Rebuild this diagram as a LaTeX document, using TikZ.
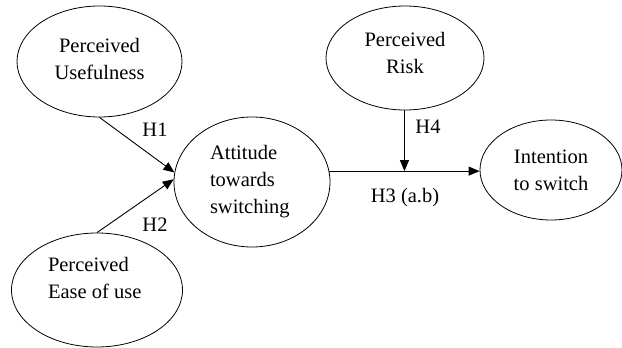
\documentclass[tikz,border=0pt]{standalone}
\usepackage{fontspec}
\setmainfont{Liberation Serif}
\usetikzlibrary{arrows.meta,positioning,calc,shapes.geometric}

\begin{document}
\begin{tikzpicture}[
  x=1pt, y=-1pt,
  var/.style={draw, ellipse, line width=0.8pt, inner sep=0pt, align=center,
    font=\fontsize{20.5}{27}\selectfont},
  arr/.style={-{Triangle[length=11pt,width=9pt]}, line width=0.9pt},
  lab/.style={font=\fontsize{20.5}{24}\selectfont, inner sep=1pt}
]
\useasboundingbox (0,0) rectangle (622,348);

% constructs
\node[var, minimum width=165pt, minimum height=111pt] (pu) at (99.5,61.5) {\raisebox{2.5pt}[\height][\depth]{\parbox{100pt}{\centering Perceived\\Usefulness}}};
\node[var, minimum width=171pt, minimum height=114pt, align=left] (peu) at (97,290) {\raisebox{12.5pt}[\height][\depth]{\parbox{98pt}{Perceived\\Ease of use}}};
\node[var, minimum width=156pt, minimum height=130pt, align=left] (att) at (252,182) {\parbox{84pt}{Attitude\\towards\\switching}};
\node[var, minimum width=158pt, minimum height=104pt] (risk) at (405,58) {\raisebox{5pt}[\height][\depth]{\parbox{100pt}{\centering Perceived\\Risk}}};
\node[var, minimum width=142pt, minimum height=100pt] (int) at (551,170) {Intention\\to switch};

% paths
\coordinate (mod) at ($(att.8)!0.5!(att.8 -| int.west)$);
\draw[arr] (pu.south) -- (att.173);
\draw[arr] (peu.north) -- (att.178);
\draw[arr] (att.8) -- (att.8 -| int.west);
\draw[arr] (risk.south -| mod) -- (mod);

% hypotheses
\node[lab] (h1) at (155,130) {H1};
\node[lab] (h2) at (155,225) {H2};
\node[lab] (h4) at (428,127) {H4};
\node[lab] (h3) at (405,198) {H3 (a.b)};
\end{tikzpicture}
\end{document}
